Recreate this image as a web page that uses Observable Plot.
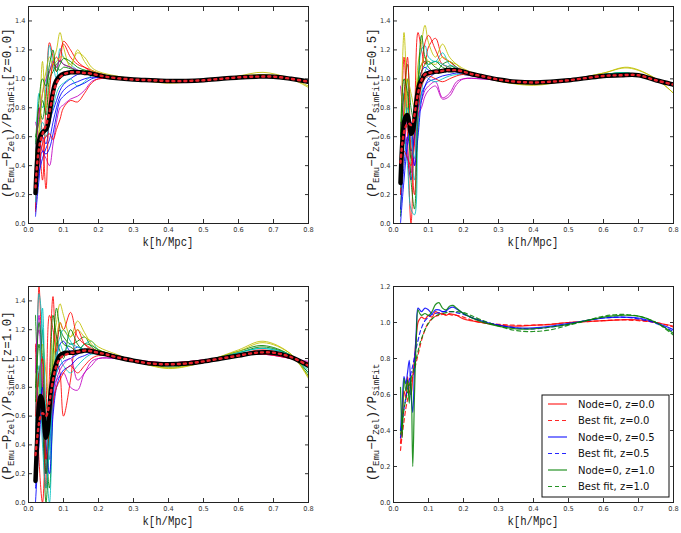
<!DOCTYPE html>
<html><head><meta charset="utf-8">
<script src="https://cdn.jsdelivr.net/npm/d3@7"></script>
<script src="https://cdn.jsdelivr.net/npm/@observablehq/plot@0.6"></script>
<style>
body{margin:0;background:#fff;width:681px;height:533px;position:relative;overflow:hidden}
.panel{position:absolute}
.panel svg{overflow:visible}
</style>
</head><body>
<div id="p1" class="panel" style="left:0;top:0"></div>
<div id="p2" class="panel" style="left:365px;top:0"></div>
<div id="p3" class="panel" style="left:0;top:280px"></div>
<div id="p4" class="panel" style="left:365px;top:280px"></div>
<script>
// ---------- data ----------
const kGrid = [0.02,0.03,0.04,0.05,0.06,0.07,0.08,0.09,0.10,0.12,0.14,0.16,0.18,0.20,0.25,0.30,0.40,0.50,0.60,0.67,0.75,0.80];
const kFine = [0.02,0.025,0.03,0.035,0.04,0.045,0.05,0.055,0.06,0.065,0.07,0.075,0.08,0.09,0.10,0.11,0.12,0.13,0.14,0.15,0.16,0.17,0.18,0.20,0.22,0.25,0.30,0.35,0.40,0.45,0.50,0.55,0.60,0.65,0.70,0.75,0.80];

const xTicks = [0.0,0.1,0.2,0.3,0.4,0.5,0.6,0.7,0.8];
const yTicksA = [0.0,0.2,0.4,0.6,0.8,1.0,1.2,1.4];
const yTicksB = [0.0,0.2,0.4,0.6,0.8,1.0,1.2];
const nodeColors = ["#0000ff","#008000","#ff0000","#00bfbf","#bf00bf","#bfbf00"];

// z = 0.0 emulator nodes
const z00Lines = [
 [0.10,0.45,0.60,0.55,0.70,0.78,0.85,0.92,0.96,1.00,1.03,1.04,1.04,1.03,1.01,1.0,0.985,0.99,1.01,1.02,1.0,0.97],
 [0.55,0.80,0.72,0.90,1.05,1.10,1.08,1.06,1.08,1.07,1.06,1.05,1.04,1.03,1.01,1.0,0.98,0.99,1.01,1.02,1.0,0.98],
 [0.08,0.55,0.30,0.85,1.25,1.15,1.05,1.18,1.24,1.15,1.10,1.08,1.06,1.04,1.01,1.0,0.985,0.99,1.01,1.015,1.0,0.98],
 [0.30,0.90,0.80,0.95,1.23,1.10,1.00,1.21,1.15,1.10,1.06,1.04,1.03,1.02,1.0,1.0,0.98,0.99,1.01,1.02,0.995,0.97],
 [0.70,0.60,0.50,0.45,0.40,0.55,0.70,0.80,0.82,0.86,0.88,0.92,0.98,1.0,1.0,1.0,0.985,0.99,1.01,1.02,1.0,0.98],
 [0.40,0.65,1.12,0.80,0.95,1.12,1.20,1.32,1.22,1.08,1.20,1.12,1.06,1.04,1.01,1.0,0.975,0.99,1.015,1.03,1.0,0.95],
 [0.20,0.35,0.45,0.52,0.58,0.70,0.80,0.88,0.92,0.96,0.98,1.0,1.01,1.01,1.0,1.0,0.985,0.99,1.01,1.015,1.0,0.98],
 [0.60,0.70,0.85,0.75,1.00,1.05,1.10,1.12,1.10,1.08,1.05,1.06,1.05,1.03,1.01,1.0,0.98,0.99,1.01,1.02,1.0,0.97],
 [0.30,0.80,0.60,0.24,0.90,1.10,1.15,1.12,1.26,1.20,1.12,1.08,1.05,1.03,1.01,1.0,0.985,0.99,1.01,1.02,1.0,0.98],
 [0.15,0.50,0.65,0.60,0.70,0.80,0.90,0.95,0.97,1.00,0.95,0.98,1.02,1.02,1.0,1.0,0.985,0.99,1.01,1.015,1.0,0.97],
 [0.50,0.75,0.90,1.00,1.05,1.12,1.08,1.13,1.10,1.08,1.06,1.04,1.03,1.02,1.01,1.0,0.985,0.99,1.01,1.02,1.0,0.98],
 [0.35,0.60,0.90,1.05,1.15,1.10,1.12,1.15,1.15,1.10,1.18,1.15,1.08,1.05,1.02,1.0,0.97,0.99,1.02,1.045,1.0,0.94],
 [0.05,0.30,0.50,0.48,0.52,0.62,0.75,0.85,0.88,0.92,0.95,0.97,1.0,1.01,1.0,1.0,0.985,0.99,1.01,1.015,1.0,0.98],
 [0.45,0.85,1.00,0.95,1.10,1.20,1.05,1.10,1.14,1.12,1.08,1.06,1.04,1.03,1.01,1.0,0.985,0.99,1.01,1.02,1.0,0.98],
 [0.25,0.40,0.55,0.60,0.62,0.58,0.65,0.72,0.80,0.85,0.84,0.90,0.97,1.0,1.0,1.0,0.985,0.99,1.01,1.02,1.0,0.98],
 [0.40,0.55,0.70,0.65,0.80,0.92,0.98,1.00,1.02,1.04,1.05,1.05,1.04,1.03,1.01,1.0,0.985,0.99,1.01,1.02,1.0,0.98]
];
const z00Emu = [0.21,0.45,0.57,0.61,0.63,0.64,0.65,0.68,0.75,0.84,0.91,0.96,0.99,1.02,1.035,1.04,1.045,1.045,1.045,1.045,1.04,1.04,1.035,1.025,1.015,1.005,0.995,0.99,0.985,0.985,0.99,1.0,1.01,1.015,1.015,1.0,0.98];
const z00Fit = [0.25,0.42,0.52,0.58,0.62,0.65,0.68,0.72,0.77,0.83,0.89,0.94,0.97,1.01,1.03,1.04,1.045,1.045,1.045,1.045,1.04,1.04,1.035,1.025,1.015,1.005,0.995,0.99,0.985,0.985,0.99,1.0,1.01,1.015,1.015,1.0,0.98];

// z = 0.5
const z05Lines = [
 [0.20,0.60,0.45,0.30,0.70,0.95,1.05,1.08,1.06,1.05,1.06,1.07,1.06,1.05,1.02,0.99,0.975,0.99,1.02,1.03,0.99,0.96],
 [0.05,0.70,1.00,0.45,0.60,1.00,1.10,1.12,1.08,1.04,1.10,1.12,1.08,1.05,1.02,0.99,0.97,0.99,1.03,1.04,0.99,0.95],
 [0.40,1.15,0.60,0.00,0.70,1.32,1.20,1.10,1.22,1.28,1.15,1.12,1.08,1.06,1.02,0.99,0.975,0.99,1.02,1.03,0.99,0.96],
 [0.30,0.90,0.70,0.50,0.30,0.90,1.20,1.23,1.15,1.12,1.18,1.10,1.08,1.05,1.02,0.99,0.97,0.99,1.03,1.04,0.99,0.95],
 [0.95,0.70,0.50,0.35,0.60,0.80,0.85,0.92,0.95,0.98,0.87,0.90,0.98,1.0,1.0,0.99,0.975,0.99,1.02,1.03,0.99,0.97],
 [0.50,1.32,0.80,0.50,0.70,1.10,1.25,1.37,1.25,1.15,1.24,1.15,1.10,1.06,1.02,0.985,0.96,0.99,1.04,1.075,1.0,0.90],
 [0.10,0.40,0.60,0.50,0.60,0.80,0.90,0.95,0.98,1.00,1.02,1.03,1.04,1.03,1.01,0.99,0.975,0.99,1.02,1.03,0.99,0.96],
 [0.60,0.90,1.10,0.80,0.70,0.95,1.05,1.10,1.12,1.08,1.06,1.09,1.07,1.05,1.02,0.99,0.97,0.99,1.03,1.04,0.99,0.95],
 [0.20,0.80,1.15,0.50,0.20,0.70,1.00,1.25,1.30,1.20,1.10,1.08,1.05,1.04,1.02,0.99,0.975,0.99,1.02,1.03,0.99,0.96],
 [0.45,0.60,0.40,0.10,0.06,0.65,0.90,1.02,1.00,0.98,1.00,1.02,1.03,1.03,1.01,0.99,0.975,0.99,1.02,1.03,0.99,0.97],
 [0.70,0.55,0.75,0.60,0.40,0.75,0.80,0.88,0.92,0.95,0.86,0.88,0.96,1.0,1.0,0.99,0.975,0.99,1.02,1.03,0.99,0.97],
 [0.30,0.70,1.00,0.90,0.80,1.00,1.10,1.15,1.12,1.10,1.15,1.12,1.10,1.07,1.02,0.985,0.955,0.99,1.04,1.08,1.0,0.90],
 [0.00,0.30,0.55,0.70,0.40,0.60,0.85,0.95,1.00,1.04,1.05,1.06,1.05,1.04,1.02,0.99,0.975,0.99,1.02,1.03,0.99,0.96],
 [0.60,1.00,0.90,0.30,0.10,0.90,1.30,1.15,1.10,1.12,1.08,1.06,1.05,1.04,1.02,0.99,0.975,0.99,1.02,1.035,0.99,0.96],
 [0.35,0.50,0.45,0.40,0.55,0.85,0.95,1.00,1.02,1.00,0.98,1.0,1.02,1.03,1.01,0.99,0.975,0.99,1.02,1.03,0.99,0.97],
 [0.25,0.65,0.80,0.60,0.45,0.85,1.00,1.05,1.10,1.12,1.10,1.08,1.06,1.05,1.02,0.99,0.97,0.99,1.03,1.04,0.99,0.95]
];
const z05Emu = [0.28,0.55,0.70,0.74,0.75,0.69,0.62,0.64,0.72,0.84,0.92,0.97,0.99,1.03,1.04,1.045,1.05,1.05,1.055,1.06,1.06,1.06,1.06,1.05,1.035,1.02,0.995,0.98,0.975,0.98,0.99,1.005,1.02,1.025,1.025,0.99,0.96];
const z05Fit = [0.42,0.55,0.63,0.67,0.69,0.69,0.68,0.70,0.75,0.83,0.90,0.95,0.99,1.03,1.04,1.045,1.05,1.05,1.055,1.06,1.06,1.06,1.06,1.05,1.035,1.02,0.995,0.98,0.975,0.98,0.99,1.005,1.02,1.025,1.025,0.99,0.96];

// z = 1.0
const z10Lines = [
 [0.30,0.90,0.60,0.20,0.50,0.85,1.00,1.10,1.12,1.05,1.08,1.06,1.05,1.04,1.02,0.99,0.96,0.985,1.03,1.05,1.01,0.94],
 [1.30,0.80,1.20,0.40,0.10,0.70,1.10,1.20,1.15,1.10,1.12,1.15,1.08,1.05,1.02,0.99,0.94,0.98,1.05,1.09,1.02,0.88],
 [0.50,1.50,0.80,0.10,0.90,1.43,1.00,0.90,0.60,0.85,1.20,1.10,1.06,1.04,1.02,0.99,0.96,0.985,1.03,1.05,1.01,0.95],
 [0.40,1.45,1.20,0.30,0.00,0.70,1.05,1.15,1.20,1.12,1.05,1.10,1.12,1.06,1.02,0.99,0.95,0.98,1.04,1.07,1.02,0.90],
 [1.05,1.20,0.50,0.20,0.60,0.80,0.85,0.88,0.90,0.80,0.78,0.90,0.95,1.0,1.0,0.99,0.97,0.99,1.02,1.03,1.0,0.97],
 [0.20,0.60,1.00,0.70,0.60,1.10,1.25,1.38,1.30,1.15,1.26,1.18,1.10,1.06,1.02,0.985,0.93,0.975,1.06,1.12,1.03,0.86],
 [0.00,0.40,0.70,0.30,0.40,0.75,0.90,0.95,0.98,1.00,1.03,1.05,1.05,1.04,1.02,0.99,0.96,0.985,1.03,1.05,1.01,0.95],
 [0.80,1.10,0.60,0.00,0.50,1.00,1.35,1.20,1.10,1.08,1.05,1.10,1.09,1.06,1.02,0.99,0.95,0.98,1.04,1.08,1.02,0.90],
 [1.10,0.30,0.00,0.60,1.30,1.20,1.05,1.25,1.20,1.32,1.15,1.10,1.07,1.05,1.02,0.99,0.96,0.985,1.03,1.06,1.01,0.94],
 [0.60,0.95,0.40,0.10,0.40,0.80,0.90,1.00,0.95,0.90,0.95,1.00,1.03,1.03,1.01,0.99,0.96,0.985,1.03,1.05,1.01,0.95],
 [0.90,1.30,0.80,0.50,0.30,0.65,0.85,0.92,0.96,1.00,0.85,0.90,0.98,1.0,1.0,0.99,0.97,0.99,1.02,1.03,1.0,0.98],
 [0.35,0.80,1.10,0.90,0.70,0.95,1.15,1.25,1.20,1.15,1.20,1.15,1.12,1.08,1.03,0.985,0.935,0.975,1.05,1.11,1.03,0.87],
 [0.10,0.50,0.80,0.40,0.20,0.60,0.80,0.88,0.92,0.95,1.00,1.02,1.04,1.04,1.02,0.99,0.96,0.985,1.03,1.05,1.01,0.95],
 [0.70,1.25,1.00,0.20,0.60,1.30,1.15,1.05,1.00,1.20,1.10,1.05,1.04,1.03,1.02,0.99,0.96,0.985,1.03,1.05,1.01,0.95],
 [0.60,0.90,1.00,0.30,0.55,0.70,0.80,0.85,0.90,0.95,0.90,0.95,1.0,1.02,1.01,0.99,0.97,0.99,1.02,1.03,1.0,0.97],
 [0.20,0.70,1.35,0.60,0.30,0.80,1.00,1.10,1.05,1.10,1.08,1.06,1.05,1.04,1.02,0.99,0.95,0.98,1.04,1.07,1.02,0.92]
];
const z10Emu = [0.15,0.45,0.68,0.74,0.70,0.55,0.45,0.50,0.66,0.80,0.87,0.93,0.97,1.02,1.035,1.04,1.04,1.04,1.045,1.05,1.055,1.055,1.05,1.04,1.03,1.01,0.985,0.965,0.96,0.965,0.98,1.0,1.02,1.04,1.04,1.01,0.95];
const z10Fit = [0.33,0.45,0.55,0.60,0.62,0.61,0.60,0.63,0.70,0.78,0.85,0.91,0.95,1.0,1.02,1.03,1.04,1.04,1.045,1.05,1.055,1.055,1.05,1.04,1.03,1.01,0.985,0.965,0.96,0.965,0.98,1.0,1.02,1.04,1.04,1.01,0.95];

// Node = 0 comparison (bottom-right)
const node0z00 = [0.33,0.45,0.62,0.58,0.70,0.62,0.60,0.70,0.80,0.92,1.00,1.02,1.03,1.02,1.04,1.03,1.06,1.05,1.05,1.04,1.05,1.045,1.04,1.02,1.01,1.0,0.985,0.98,0.985,0.99,1.0,1.005,1.01,1.015,1.015,1.0,0.98];
const node0z05 = [0.40,0.55,0.70,0.66,0.72,0.79,0.60,0.50,0.75,0.95,1.08,1.07,1.06,1.08,1.07,1.05,1.07,1.07,1.06,1.065,1.08,1.085,1.075,1.05,1.03,1.01,0.985,0.97,0.97,0.98,0.995,1.01,1.025,1.03,1.025,1.0,0.96];
const node0z10 = [0.64,0.36,0.69,0.62,0.68,0.55,0.70,0.20,0.60,0.90,1.07,1.05,1.04,1.05,1.04,1.06,1.10,1.11,1.08,1.07,1.09,1.095,1.08,1.05,1.03,1.005,0.98,0.965,0.965,0.975,0.99,1.01,1.03,1.04,1.035,1.0,0.94];
const bestz00 = [0.29,0.38,0.45,0.52,0.57,0.62,0.66,0.70,0.74,0.78,0.82,0.86,0.90,0.96,1.0,1.02,1.035,1.04,1.045,1.045,1.045,1.04,1.04,1.03,1.015,1.0,0.99,0.985,0.985,0.99,1.0,1.005,1.01,1.015,1.01,1.0,0.975];
const bestz05 = [0.36,0.44,0.52,0.58,0.63,0.68,0.72,0.76,0.81,0.86,0.90,0.94,0.97,1.01,1.03,1.045,1.05,1.055,1.06,1.06,1.06,1.06,1.055,1.045,1.03,1.01,0.985,0.97,0.965,0.975,0.99,1.01,1.025,1.03,1.02,0.995,0.95];
const bestz10 = [0.38,0.45,0.52,0.57,0.61,0.65,0.69,0.72,0.76,0.80,0.84,0.88,0.91,0.96,0.995,1.02,1.035,1.045,1.05,1.055,1.06,1.06,1.06,1.055,1.04,1.015,0.98,0.955,0.95,0.96,0.985,1.01,1.035,1.045,1.035,1.0,0.93];
const legendLabels = ["Node=0, z=0.0","Best fit, z=0.0","Node=0, z=0.5","Best fit, z=0.5","Node=0, z=1.0","Best fit, z=1.0"];
const legendColors = ["#ff0000","#ff0000","#0000ff","#0000ff","#008000","#008000"];
const legendDashed = [false,true,false,true,false,true];

// ---------- helpers ----------
const pts = (ks, vs) => ks.map((k, i) => ({k, v: vs[i]}));
const fmt = d3.format(".1f");

function axes(yTicks) {
  return [
    Plot.axisX({anchor: "bottom", ticks: xTicks, tickSize: 0, tickPadding: 3.5, tickFormat: fmt, label: null}),
    Plot.axisX({anchor: "bottom", ticks: xTicks, tickSize: -4, tickFormat: () => "", label: null}),
    Plot.axisX({anchor: "top", ticks: xTicks, tickSize: -4, tickFormat: () => "", label: null}),
    Plot.axisY({anchor: "left", ticks: yTicks, tickSize: 0, tickPadding: 3, tickFormat: fmt, label: null}),
    Plot.axisY({anchor: "left", ticks: yTicks, tickSize: -4, tickFormat: () => "", label: null}),
    Plot.axisY({anchor: "right", ticks: yTicks, tickSize: -4, tickFormat: () => "", label: null}),
    Plot.frame({stroke: "#222", strokeWidth: 1})
  ];
}

function basePlot(marks, {width, height, marginRight, marginBottom, ymax}) {
  return Plot.plot({
    width, height,
    marginLeft: 28, marginRight, marginTop: 6, marginBottom,
    style: {background: "transparent", fontFamily: "DejaVu Sans", fontSize: "6.6px", color: "#333", overflow: "visible"},
    x: {domain: [0, 0.8]},
    y: {domain: [0, ymax]},
    marks
  });
}

function nodePanel(lines, emu, fit, dims) {
  const marks = [];
  lines.forEach((vals, i) => {
    marks.push(Plot.line(pts(kGrid, vals), {x: "k", y: "v", stroke: nodeColors[i % nodeColors.length], strokeWidth: 1, strokeOpacity: 0.85, curve: "catmull-rom", clip: true}));
  });
  marks.push(Plot.line(pts(kFine, emu), {x: "k", y: "v", stroke: "#000", strokeWidth: 4.5, curve: "catmull-rom", clip: true}));
  marks.push(Plot.line(pts(kFine, fit), {x: "k", y: "v", stroke: "#e8202a", strokeWidth: 2.4, strokeDasharray: "2,4", curve: "catmull-rom", clip: true}));
  marks.push(...axes(yTicksA));
  return basePlot(marks, {...dims, ymax: 1.5});
}

function addYLabel(svg, x, y, zText) {
  const t = d3.select(svg).append("text")
    .attr("transform", `translate(${x},${y}) rotate(-90)`)
    .attr("text-anchor", "start")
    .style("font-family", "'Liberation Mono', 'DejaVu Sans Mono', monospace")
    .style("font-size", "12.5px")
    .attr("fill", "#222");
  const parts = [["(P", 0], ["Emu", 1], ["\u2212P", 0], ["Zel", 1], [")/P", 0], ["SimFit", 1]];
  if (zText) parts.push([zText, 0]);
  let prevSub = 0;
  parts.forEach(([s, sub]) => {
    const ts = t.append("tspan").text(s);
    if (sub) ts.style("font-size", "9px");
    const dy = (sub - prevSub) * 3.2;
    if (dy) ts.attr("dy", dy);
    prevSub = sub;
  });
}

function addXLabel(svg, x, y) {
  d3.select(svg).append("text")
    .attr("x", x).attr("y", y)
    .attr("text-anchor", "middle")
    .attr("textLength", 51).attr("lengthAdjust", "spacingAndGlyphs")
    .style("font-family", "'Liberation Mono', 'DejaVu Sans Mono', monospace")
    .style("font-size", "12.5px")
    .attr("fill", "#222")
    .text("k[h/Mpc]");
}

// ---------- panels ----------
const topDims = {width: 340, height: 266, marginRight: 32, marginBottom: 43};
const topDimsR = {width: 316, height: 266, marginRight: 8, marginBottom: 43};
const botDims = {width: 340, height: 253, marginRight: 32, marginBottom: 31};
const botDimsR = {width: 316, height: 253, marginRight: 8, marginBottom: 31};

const s1 = nodePanel(z00Lines, z00Emu, z00Fit, topDims);
document.getElementById("p1").append(s1);
addYLabel(s1, 11, 198, "[z=0.0]");
addXLabel(s1, 168, 246);

const s2 = nodePanel(z05Lines, z05Emu, z05Fit, topDimsR);
document.getElementById("p2").append(s2);
addYLabel(s2, 11, 198, "[z=0.5]");
addXLabel(s2, 168, 246);

const s3 = nodePanel(z10Lines, z10Emu, z10Fit, botDims);
document.getElementById("p3").append(s3);
addYLabel(s3, 11, 201, "[z=1.0]");
addXLabel(s3, 168, 245);

const cmp = [
  [node0z00, "#ff0000", null], [bestz00, "#ff0000", "4,3"],
  [node0z05, "#0000ff", null], [bestz05, "#0000ff", "4,3"],
  [node0z10, "#008000", null], [bestz10, "#008000", "4,3"]
];
const m4 = cmp.map(([vals, c, dash]) => Plot.line(pts(kFine, vals), {x: "k", y: "v", stroke: c, strokeWidth: 1.2, strokeOpacity: 0.85, strokeDasharray: dash, curve: "catmull-rom", clip: true}));
m4.push(...axes(yTicksB));
const s4 = basePlot(m4, {...botDimsR, ymax: 1.2});
document.getElementById("p4").append(s4);
addYLabel(s4, 11, 201, null);
addXLabel(s4, 168, 245);

// legend
const lg = d3.select(s4).append("g").attr("transform", "translate(177,115)").attr("text-anchor", "start");
lg.append("rect").attr("width", 127).attr("height", 102).attr("fill", "#fff").attr("stroke", "#111").attr("stroke-width", 1);
legendLabels.forEach((lab, i) => {
  const y = 9 + i * 16.5;
  lg.append("line").attr("x1", 6).attr("x2", 25).attr("y1", y).attr("y2", y)
    .attr("stroke", legendColors[i]).attr("stroke-width", 1.2).attr("stroke-opacity", 0.85)
    .attr("stroke-dasharray", legendDashed[i] ? "4,3" : null);
  lg.append("text").attr("x", 36).attr("y", y).attr("dy", "0.35em").attr("text-anchor", "start")
    .style("font-family", "'DejaVu Sans'").style("font-size", "10px").attr("fill", "#111").text(lab);
});
</script>
</body></html>
